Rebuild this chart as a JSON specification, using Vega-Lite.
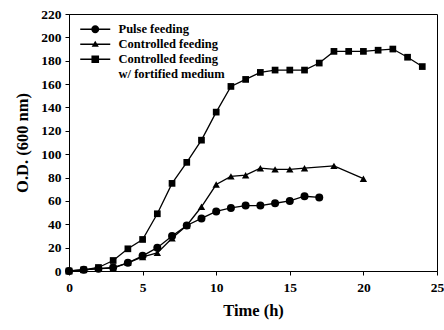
{
  "$schema": "https://vega.github.io/schema/vega-lite/v6.json",
  "width": 368,
  "height": 257,
  "autosize": {"type": "none"},
  "padding": {"left": 69, "top": 14, "right": 7, "bottom": 59},
  "background": "white",
  "config": {
    "view": {"stroke": "black", "strokeWidth": 1},
    "axis": {
      "labelFont": "Liberation Serif",
      "labelFontWeight": "bold",
      "labelFontSize": 13.5,
      "labelColor": "black",
      "titleFont": "Liberation Serif",
      "titleFontWeight": "bold",
      "titleFontSize": 16.5,
      "titleColor": "black",
      "domainColor": "black",
      "tickColor": "black",
      "tickSize": 4,
      "grid": false
    }
  },
  "data": {
    "values": [
      {"t": 0, "od": 0, "s": "Pulse feeding"},
      {"t": 1, "od": 1, "s": "Pulse feeding"},
      {"t": 2, "od": 2, "s": "Pulse feeding"},
      {"t": 3, "od": 3, "s": "Pulse feeding"},
      {"t": 4, "od": 7, "s": "Pulse feeding"},
      {"t": 5, "od": 13, "s": "Pulse feeding"},
      {"t": 6, "od": 20, "s": "Pulse feeding"},
      {"t": 7, "od": 30, "s": "Pulse feeding"},
      {"t": 8, "od": 39, "s": "Pulse feeding"},
      {"t": 9, "od": 45, "s": "Pulse feeding"},
      {"t": 10, "od": 51, "s": "Pulse feeding"},
      {"t": 11, "od": 54, "s": "Pulse feeding"},
      {"t": 12, "od": 56, "s": "Pulse feeding"},
      {"t": 13, "od": 56, "s": "Pulse feeding"},
      {"t": 14, "od": 58, "s": "Pulse feeding"},
      {"t": 15, "od": 60, "s": "Pulse feeding"},
      {"t": 16, "od": 64, "s": "Pulse feeding"},
      {"t": 17, "od": 63, "s": "Pulse feeding"},
      {"t": 0, "od": 0, "s": "Controlled feeding"},
      {"t": 1, "od": 1, "s": "Controlled feeding"},
      {"t": 2, "od": 2, "s": "Controlled feeding"},
      {"t": 3, "od": 2.5, "s": "Controlled feeding"},
      {"t": 4, "od": 7, "s": "Controlled feeding"},
      {"t": 5, "od": 12, "s": "Controlled feeding"},
      {"t": 6, "od": 15.5, "s": "Controlled feeding"},
      {"t": 7, "od": 28, "s": "Controlled feeding"},
      {"t": 8, "od": 39, "s": "Controlled feeding"},
      {"t": 9, "od": 55, "s": "Controlled feeding"},
      {"t": 10, "od": 74, "s": "Controlled feeding"},
      {"t": 11, "od": 81, "s": "Controlled feeding"},
      {"t": 12, "od": 82, "s": "Controlled feeding"},
      {"t": 13, "od": 88, "s": "Controlled feeding"},
      {"t": 14, "od": 87, "s": "Controlled feeding"},
      {"t": 15, "od": 87, "s": "Controlled feeding"},
      {"t": 16, "od": 88, "s": "Controlled feeding"},
      {"t": 18, "od": 90, "s": "Controlled feeding"},
      {"t": 20, "od": 79, "s": "Controlled feeding"},
      {"t": 0, "od": 0, "s": "Fortified"},
      {"t": 1, "od": 1, "s": "Fortified"},
      {"t": 2, "od": 3, "s": "Fortified"},
      {"t": 3, "od": 9, "s": "Fortified"},
      {"t": 4, "od": 19, "s": "Fortified"},
      {"t": 5, "od": 27, "s": "Fortified"},
      {"t": 6, "od": 49, "s": "Fortified"},
      {"t": 7, "od": 75, "s": "Fortified"},
      {"t": 8, "od": 93, "s": "Fortified"},
      {"t": 9, "od": 112, "s": "Fortified"},
      {"t": 10, "od": 136, "s": "Fortified"},
      {"t": 11, "od": 158, "s": "Fortified"},
      {"t": 12, "od": 164, "s": "Fortified"},
      {"t": 13, "od": 170, "s": "Fortified"},
      {"t": 14, "od": 172, "s": "Fortified"},
      {"t": 15, "od": 172, "s": "Fortified"},
      {"t": 16, "od": 172, "s": "Fortified"},
      {"t": 17, "od": 178, "s": "Fortified"},
      {"t": 18, "od": 188, "s": "Fortified"},
      {"t": 19, "od": 188, "s": "Fortified"},
      {"t": 20, "od": 188, "s": "Fortified"},
      {"t": 21, "od": 189, "s": "Fortified"},
      {"t": 22, "od": 190, "s": "Fortified"},
      {"t": 23, "od": 183, "s": "Fortified"},
      {"t": 24, "od": 175, "s": "Fortified"}
    ]
  },
  "encoding": {
    "x": {
      "field": "t",
      "type": "quantitative",
      "title": "Time (h)",
      "scale": {"domain": [0, 25], "nice": false, "zero": false},
      "axis": {"values": [0, 5, 10, 15, 20, 25], "labelPadding": 5, "titlePadding": 9, "labelFlush": false}
    },
    "y": {
      "field": "od",
      "type": "quantitative",
      "title": "O.D. (600 nm)",
      "scale": {"domain": [0, 220], "nice": false},
      "axis": {"values": [0, 20, 40, 60, 80, 100, 120, 140, 160, 180, 200, 220], "labelPadding": 4, "titlePadding": 10, "labelFlush": false}
    }
  },
  "layer": [
    {
      "mark": {"type": "line", "color": "black", "strokeWidth": 1.3},
      "encoding": {"detail": {"field": "s", "type": "nominal"}}
    },
    {
      "mark": {"type": "point", "filled": true, "color": "black", "opacity": 1},
      "encoding": {
        "shape": {
          "field": "s",
          "type": "nominal",
          "scale": {
            "domain": ["Pulse feeding", "Controlled feeding", "Fortified"],
            "range": ["circle", "triangle-up", "square"]
          },
          "legend": null
        },
        "size": {
          "field": "s",
          "type": "nominal",
          "scale": {
            "domain": ["Pulse feeding", "Controlled feeding", "Fortified"],
            "range": [64, 45, 60]
          },
          "legend": null
        }
      }
    },
    {
      "transform": [{"filter": "false"}],
      "mark": {"type": "point", "filled": true, "color": "black", "opacity": 1},
      "encoding": {
        "shape": {
          "field": "s",
          "type": "nominal",
          "scale": {
            "domain": ["Pulse feeding", "Controlled feeding", "Controlled feeding ", "w/ fortified medium"],
            "range": [
              "M-3.75,-0.16H3.75V0.16H-3.75ZM-1,0A1,1 0 1,1 1,0A1,1 0 1,1 -1,0Z",
              "M-3.75,-0.16H3.75V0.16H-3.75ZM0,-0.9L0.9,0.65H-0.9Z",
              "M-3.75,-0.16H3.75V0.16H-3.75ZM-0.95,-0.95H0.95V0.95H-0.95Z",
              "M0,0"
            ]
          },
          "legend": {
            "title": null,
            "orient": "none",
            "legendX": 20,
            "legendY": 9,
            "padding": 0,
            "symbolSize": 64,
            "symbolStrokeWidth": 0,
            "symbolFillColor": "black",
            "symbolOpacity": 1,
            "labelOffset": 17,
            "labelFont": "Liberation Serif",
            "labelFontWeight": "bold",
            "labelFontSize": 12.5,
            "labelColor": "black",
            "labelLimit": 0,
            "rowPadding": 2,
            "encode": {
              "labels": {
                "update": {
                  "dx": {"signal": "datum.value === 'w/ fortified medium' ? 4 : 0"}
                }
              }
            }
          }
        }
      }
    }
  ],
  "resolve": {"scale": {"shape": "independent"}}
}
